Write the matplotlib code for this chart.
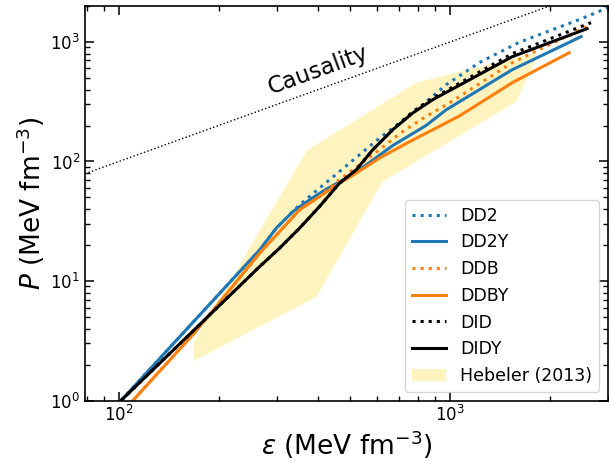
import numpy as np
import matplotlib
matplotlib.use('Agg')
import matplotlib.pyplot as plt

####################### DATA #######################
# energy density eps and pressure P, both in MeV fm^-3
dd2_eps = [101.9, 163.7, 266.1, 298.8, 335.4, 351.3, 403.6, 463.8, 533.0, 612.2, 703.3, 826.9, 974.5, 1225, 1618, 2453, 3000, 3236]
dd2_p = [1.01, 4.22, 18.2, 27.69, 38.13, 43.4, 59.9, 82.5, 113.8, 157.0, 209.7, 298.5, 439, 671, 994, 1537, 1937, 2133]

dd2y_eps = [101.9, 163.7, 266.1, 298.8, 335.4, 376.5, 422.9, 485.9, 533.0, 671.4, 846.6, 974.5, 1541, 2488]
dd2y_p = [1.01, 4.22, 18.2, 27.69, 38.13, 47.77, 58.7, 72.6, 85.2, 136, 200, 271, 586, 1108]

ddb_eps = [110.6, 169.5, 266.1, 305.7, 351.3, 403.6, 463.8, 533.0, 612.2, 719.6, 846.6, 995.2, 1541, 2666]
ddb_p = [1.01, 3.7, 17.09, 25.93, 39.4, 50.9, 70.3, 93.8, 125.3, 178.4, 238.2, 308.4, 671, 1397]

ddby_eps = [110.6, 169.5, 266.1, 305.7, 351.3, 403.6, 463.8, 520.9, 612.2, 754.0, 1066.6, 1541, 2291]
ddby_p = [1.01, 3.7, 17.09, 25.93, 39.4, 50.9, 65.9, 79.9, 106.8, 146.2, 240, 456, 813]

did_eps = [101.9, 163.7, 266.1, 305.7, 351.3, 403.6, 463.8, 520.9, 584.4, 671.4, 771.5, 886.3, 1541, 2666]
did_p = [1.01, 3.59, 13.2, 18.83, 27.69, 42.0, 65.9, 85.2, 125.3, 184.3, 260.8, 338.2, 798, 1451]

didy_eps = [101.9, 163.7, 266.1, 305.7, 351.3, 403.6, 463.8, 520.9, 584.4, 671.4, 771.5, 886.3, 1541, 2594]
didy_p = [1.01, 3.59, 13.2, 18.83, 27.69, 42.0, 65.9, 85.2, 125.3, 184.3, 254.3, 328.6, 753, 1292]

# Hebeler et al. (2013) band, lower and upper edge
heb_lo_eps = [168.3, 395, 625, 1585, 1820]
heb_lo_p = [2.14, 7.36, 67.6, 316, 711]
heb_up_eps = [168.3, 368.8, 791, 1820]
heb_up_p = [3.03, 123, 456, 813]

causal_eps = [79, 3000]

####################### CHART ############################
plt.rcParams['font.family'] = 'DejaVu Sans'
fig = plt.figure(figsize=(6.09, 4.62), dpi=100)
ax = fig.add_axes([85/609, 1-400.5/462, 523/609, 394.5/462])

band_x = heb_lo_eps + heb_up_eps[::-1]
band_y = heb_lo_p + heb_up_p[::-1]
ax.fill(band_x, band_y, color='gold', alpha=0.25, lw=0, label='Hebeler (2013)')

ax.plot(causal_eps, causal_eps, ':', color='k', lw=1)
ax.text(401, 586, 'Causality', fontsize=16.5, rotation=20, ha='center', va='center')

ax.plot(dd2_eps, dd2_p, ':', color='tab:blue', lw=2.2, label='DD2')
ax.plot(dd2y_eps, dd2y_p, '-', color='tab:blue', lw=2.2, label='DD2Y')
ax.plot(ddb_eps, ddb_p, ':', color='tab:orange', lw=2.2, label='DDB')
ax.plot(ddby_eps, ddby_p, '-', color='tab:orange', lw=2.2, label='DDBY')
ax.plot(did_eps, did_p, ':', color='k', lw=2.2, label='DID')
ax.plot(didy_eps, didy_p, '-', color='k', lw=2.2, label='DIDY')

ax.set_xscale('log')
ax.set_yscale('log')
ax.set_xlim(79, 3000)
ax.set_ylim(1, 2000)

ax.tick_params(which='both', direction='in', top=True, right=True, labelsize=12)
ax.tick_params(which='major', length=6.5, width=1.1)
ax.tick_params(which='minor', length=3.5, width=1.0)
for s in ax.spines.values():
    s.set_linewidth(1.2)

ax.set_xlabel(r'$\varepsilon$ (MeV fm$^{-3}$)', fontsize=19, labelpad=2)
ax.set_ylabel(r'$P$ (MeV fm$^{-3}$)', fontsize=19, labelpad=2)

handles, labels = ax.get_legend_handles_labels()
order = ['DD2', 'DD2Y', 'DDB', 'DDBY', 'DID', 'DIDY', 'Hebeler (2013)']
hl = dict(zip(labels, handles))
ax.legend([hl[k] for k in order], order, loc='lower right', fontsize=12.5)

plt.savefig('out.png', dpi=100)
